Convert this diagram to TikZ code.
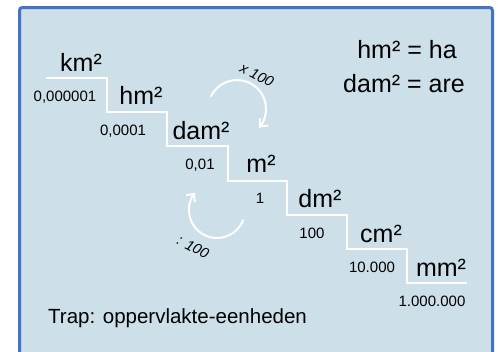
\documentclass[tikz,border=0pt]{standalone}
\usepackage{fontspec}
\setmainfont{Liberation Sans}
\usetikzlibrary{arrows.meta}
\definecolor{paneblue}{RGB}{205,223,232}
\definecolor{edgeblue}{RGB}{68,114,196}
\tikzstyle{pane} = [draw=edgeblue, fill=paneblue, line width=3pt, rounded corners=3pt]
\tikzstyle{stair} = [draw=white, line width=2.5pt]
\tikzstyle{unitname} = [inner sep=0, anchor=base, font=\fontsize{25}{30}\selectfont]
\tikzstyle{factor} = [inner sep=0, anchor=base, font=\fontsize{15}{18}\selectfont]
\tikzstyle{turn} = [draw=white, line width=2pt, -{Straight Barb[length=6pt,width=11pt]}]
\tikzstyle{turnlabel} = [inner sep=0, font=\fontsize{14.5}{17}\selectfont\itshape]

\begin{document}
\begin{tikzpicture}[x=1pt, y=-1pt]

\clip (0,0) rectangle (500,351);
\fill[white] (0,0) rectangle (500,351);
\draw[pane] (19.5,7.5) rectangle (492.5,380);


%%% trap
\draw[stair] (46,78) -| (107,112) -| (167,146) -| (228,181) -| (287,215) -| (347,249) -| (407,283) -- (467,283);


%%% eenheden
\node[unitname] (km) at (81,71) {km²};
\node[unitname] (hm) at (141,104) {hm²};
\node[unitname] (dam) at (201,139) {dam²};
\node[unitname] (m) at (261,172) {m²};
\node[unitname] (dm) at (320,207) {dm²};
\node[unitname] (cm) at (381,242) {cm²};
\node[unitname] (mm) at (441,276) {mm²};

\node[factor] (fkm) at (65,101) {0,000001};
\node[factor] (fhm) at (123,135) {0,0001};
\node[factor] (fdam) at (200,169) {0,01};
\node[factor] (fm) at (260,203) {1};
\node[factor] (fdm) at (312,238) {100};
\node[factor] (fcm) at (372,272) {10.000};
\node[factor] (fmm) at (432,306) {1.000.000};


%%% pijlen
\coordinate (up) at (237,109);
\draw[turn] (up) ++(155:29pt) arc[start angle=155, end angle=-40, radius=29pt];
\node[turnlabel, rotate=-27] (times) at (257,75) {x 100};

\coordinate (down) at (217,210);
\draw[turn] (down) ++(-20:28pt) arc[start angle=-20, end angle=-218, radius=28pt];
\node[turnlabel, rotate=-27] (divide) at (193,247) {: 100};


%%% uitleg
\node[unitname] (ha) at (407,58) {hm² = ha};
\node[unitname] (are) at (404,92) {dam² = are};

\node[inner sep=0, anchor=base west, font=\fontsize{20.5}{24}\selectfont] (title) at (48,323) {Trap: oppervlakte-eenheden};

\end{tikzpicture}
\end{document}
